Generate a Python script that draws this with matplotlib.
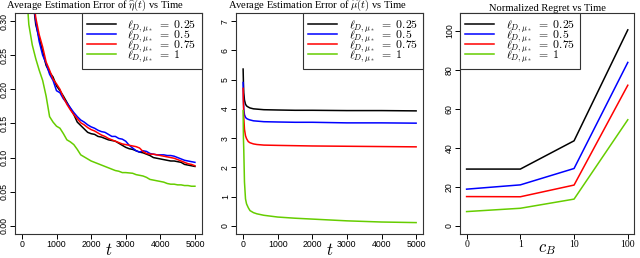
import matplotlib
matplotlib.use('Agg')
import matplotlib.pyplot as plt
import numpy as np

plt.rcParams['mathtext.fontset'] = 'cm'
plt.rcParams['font.family'] = ['Liberation Sans', 'DejaVu Sans']

labels = [r'$\ell_{D,\mu_*}\ =\ 0.25$', r'$\ell_{D,\mu_*}\ =\ 0.5$',
          r'$\ell_{D,\mu_*}\ =\ 0.75$', r'$\ell_{D,\mu_*}\ =\ 1$']
colors = ['black', '#0000ff', '#ff0000', '#66cd00']

# panel 1: average estimation error of eta-hat
t1 = list(range(100, 5001, 100))
eta_025 = [0.50, 0.42, 0.34, 0.295, 0.275, 0.255, 0.235, 0.225, 0.218, 0.205,
           0.198, 0.190, 0.181, 0.172, 0.163, 0.152, 0.147, 0.142, 0.137, 0.135,
           0.134, 0.131, 0.130, 0.128, 0.126, 0.125, 0.124, 0.121, 0.118, 0.115,
           0.113, 0.112, 0.110, 0.108, 0.107, 0.105, 0.103, 0.100, 0.099, 0.098,
           0.097, 0.096, 0.095, 0.095, 0.094, 0.093, 0.090, 0.089, 0.088, 0.087]
eta_05 = [0.50, 0.42, 0.345, 0.300, 0.270, 0.250, 0.238, 0.222, 0.213, 0.198,
          0.195, 0.186, 0.180, 0.173, 0.166, 0.160, 0.155, 0.152, 0.148, 0.145,
          0.143, 0.140, 0.138, 0.137, 0.134, 0.131, 0.131, 0.128, 0.127, 0.124,
          0.118, 0.114, 0.110, 0.108, 0.110, 0.109, 0.106, 0.105, 0.104, 0.104,
          0.104, 0.103, 0.103, 0.102, 0.100, 0.098, 0.096, 0.095, 0.094, 0.093]
eta_075 = [0.50, 0.43, 0.35, 0.305, 0.280, 0.262, 0.240, 0.228, 0.215, 0.208,
           0.200, 0.188, 0.178, 0.170, 0.163, 0.157, 0.151, 0.148, 0.144, 0.141,
           0.139, 0.136, 0.133, 0.131, 0.128, 0.126, 0.124, 0.122, 0.120, 0.119,
           0.118, 0.117, 0.116, 0.114, 0.109, 0.106, 0.105, 0.105, 0.104, 0.103,
           0.102, 0.101, 0.100, 0.099, 0.097, 0.095, 0.093, 0.091, 0.090, 0.088]
eta_1 = [0.37, 0.295, 0.265, 0.245, 0.228, 0.213, 0.190, 0.160, 0.152, 0.146,
         0.143, 0.135, 0.126, 0.123, 0.119, 0.112, 0.104, 0.101, 0.098, 0.095,
         0.093, 0.091, 0.089, 0.087, 0.085, 0.083, 0.081, 0.080, 0.078, 0.078,
         0.0775, 0.077, 0.075, 0.074, 0.073, 0.071, 0.068, 0.067, 0.066, 0.065,
         0.064, 0.062, 0.061, 0.061, 0.060, 0.060, 0.059, 0.059, 0.058, 0.058]

# panel 2: average estimation error of mu-hat
t2 = [1, 10, 20, 40, 70, 100, 150, 200, 300, 400, 600, 1000, 1500, 2000, 3000, 4000, 5000]
mu_025 = [5.36, 4.9, 4.55, 4.3, 4.16, 4.10, 4.06, 4.03, 4.00, 3.99, 3.97, 3.96, 3.95, 3.95, 3.94, 3.94, 3.93]
mu_05 = [4.90, 4.3, 4.0, 3.8, 3.71, 3.67, 3.64, 3.62, 3.59, 3.58, 3.56, 3.55, 3.54, 3.54, 3.52, 3.52, 3.51]
mu_075 = [4.70, 4.2, 3.7, 3.3, 3.08, 2.98, 2.88, 2.84, 2.80, 2.78, 2.76, 2.75, 2.74, 2.73, 2.72, 2.71, 2.70]
mu_1 = [3.94, 3.0, 2.6, 1.5, 0.92, 0.75, 0.62, 0.52, 0.45, 0.41, 0.36, 0.30, 0.26, 0.23, 0.17, 0.13, 0.11]

# panel 3: normalized regret
cb_labels = ['0', '1', '10', '100']
reg_025 = [29.1, 29.1, 43.6, 100.5]
reg_05 = [18.8, 21.0, 29.4, 83.8]
reg_075 = [15.0, 14.9, 20.9, 72.1]
reg_1 = [7.3, 9.0, 13.7, 54.4]

fig = plt.figure(figsize=(6.4, 2.58), dpi=100)
ax1 = fig.add_axes([0.0234, 0.093, 0.292, 0.857])
ax2 = fig.add_axes([0.369, 0.093, 0.292, 0.857])
ax3 = fig.add_axes([0.719, 0.093, 0.272, 0.857])

title_font = dict(family='Liberation Serif', fontsize=7.6)

def style(ax):
    ax.tick_params(direction='out', length=3.5, width=0.7, labelsize=6.3, pad=1)
    ax.tick_params(axis='y', labelrotation=90)
    for lab in ax.get_yticklabels():
        lab.set_va('center')
    for s in ax.spines.values():
        s.set_linewidth(0.8)
        s.set_color('#333333')

for ys, c, lab in zip([eta_025, eta_05, eta_075, eta_1], colors, labels):
    ax1.plot(t1, ys, color=c, lw=1.1, label=lab)
ax1.set_xlim(-200, 5200)
ax1.set_ylim(-0.012, 0.312)
ax1.set_xticks(range(0, 5001, 1000))
ax1.set_yticks(np.arange(0, 0.31, 0.05))
ax1.set_yticklabels(['%.2f' % v for v in np.arange(0, 0.31, 0.05)])
ax1.set_title(r'Average Estimation Error of $\widehat{\eta}(t)$ vs Time', pad=0, x=0.43, **title_font)
ax1.set_xlabel(r'$t$', fontsize=12, labelpad=-5)
style(ax1)

for ys, c, lab in zip([mu_025, mu_05, mu_075, mu_1], colors, labels):
    ax2.plot(t2, ys, color=c, lw=1.1, label=lab)
ax2.set_xlim(-200, 5200)
ax2.set_ylim(-0.28, 7.28)
ax2.set_xticks(range(0, 5001, 1000))
ax2.set_yticks(range(0, 8))
ax2.set_title(r'Average Estimation Error of $\widehat{\mu}(t)$ vs Time', pad=0, x=0.435, **title_font)
ax2.set_xlabel(r'$t$', fontsize=12, labelpad=-5)
style(ax2)

xpos = np.arange(1, len(cb_labels) + 1)
for ys, c, lab in zip([reg_025, reg_05, reg_075, reg_1], colors, labels):
    ax3.plot(xpos, ys, color=c, lw=1.1, label=lab)
ax3.set_xlim(0.88, 4.12)
ax3.set_ylim(-4.2, 109.2)
ax3.set_xticks(xpos)
ax3.set_xticklabels(cb_labels, family='Liberation Serif')
ax3.set_yticks(range(0, 101, 20))
ax3.set_title('Normalized Regret vs Time', pad=1, **title_font)
ax3.set_xlabel(r'$c_B$', fontsize=12, labelpad=-5)
style(ax3)
ax3.tick_params(axis='x', labelsize=7)

for ax, loc in [(ax1, 'upper right'), (ax2, 'upper right'), (ax3, 'upper left')]:
    leg = ax.legend(loc=loc, fontsize=8.5, borderaxespad=0, fancybox=False,
                    handlelength=2.4, handletextpad=1.0, labelspacing=-0.5,
                    borderpad=0.45, framealpha=1)
    leg.get_frame().set_edgecolor('#333333')
    leg.get_frame().set_linewidth(0.8)

fig.savefig('out.png', dpi=100)
